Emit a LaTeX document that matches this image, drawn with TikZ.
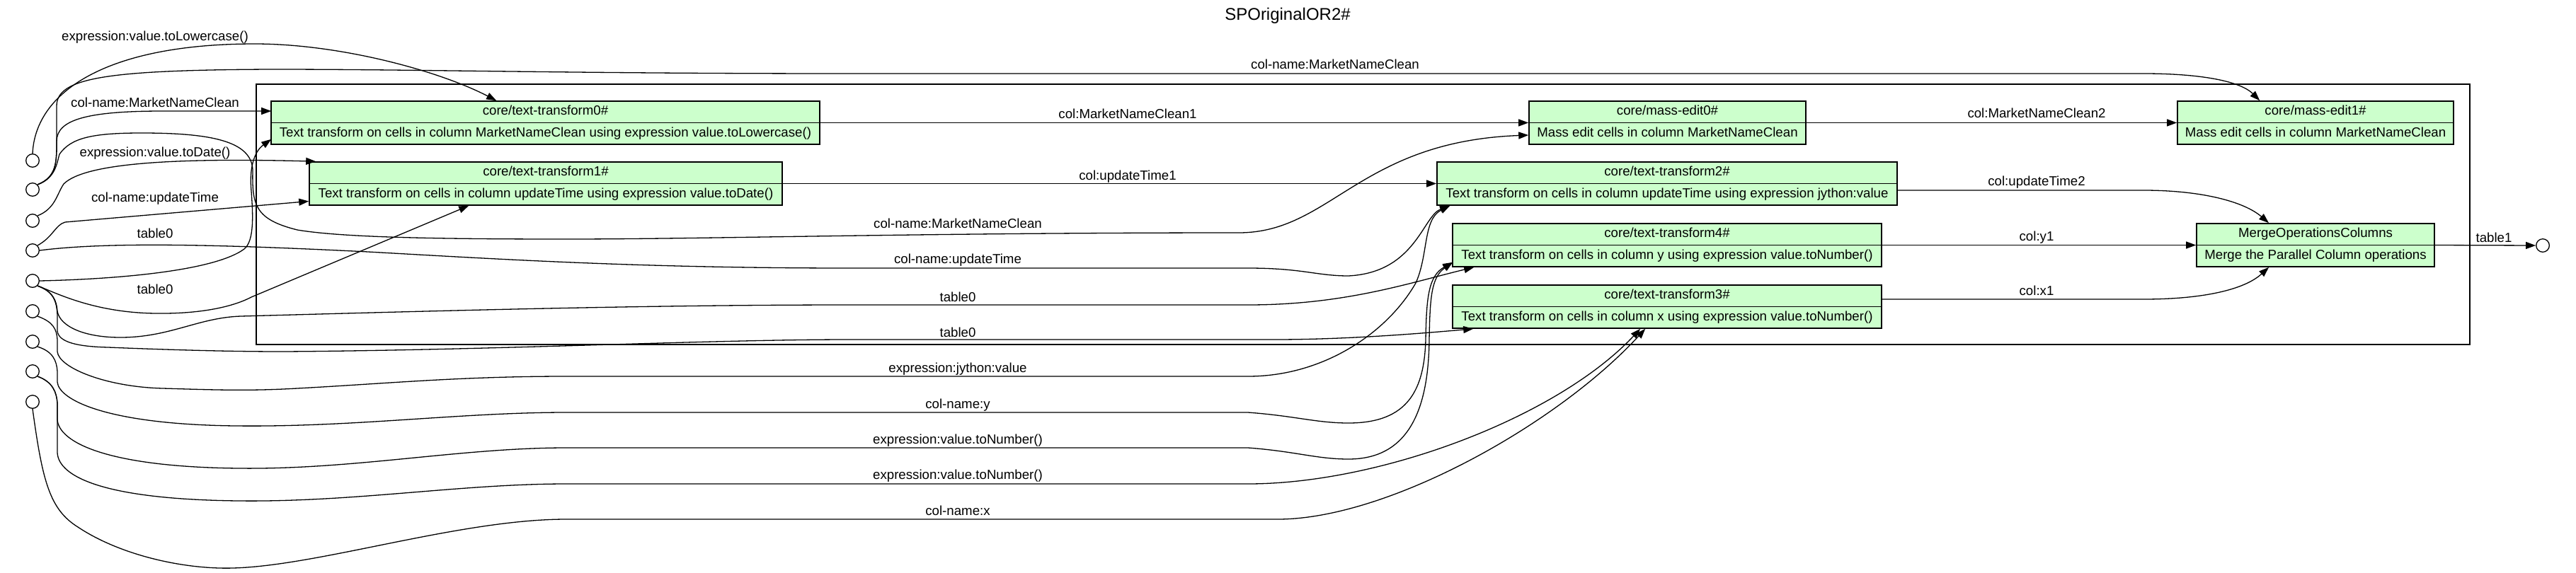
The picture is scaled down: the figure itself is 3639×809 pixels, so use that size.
\documentclass[tikz,border=0pt]{standalone}
\usepackage{fontspec}
\setmainfont{Liberation Sans}
\usetikzlibrary{arrows.meta,calc}
\definecolor{recfill}{RGB}{204,255,204}
\tikzset{
  edge/.style={line width=1.3pt, -{Triangle[length=14pt,width=10pt]}},
  rec/.style={draw, line width=1.6pt, fill=recfill, minimum height=61pt, inner sep=0pt},
  inp/.style={draw, circle, line width=1.3pt, minimum size=18.6pt, inner sep=0pt},
  txt/.style={font=\fontsize{18.67}{22}\selectfont, text height=13.4pt, text depth=3.9pt, inner sep=0pt},
  lbl/.style={txt},
  ttl/.style={font=\fontsize{24}{28}\selectfont, inner sep=0pt},
  clusterbox/.style={draw, line width=2.8pt, inner sep=0pt},
}
\newcommand\recnode[6]{%
  \node[rec, minimum width=#4pt] (#1) at (#2,#3) {};
  \draw[line width=1.6pt] (#1.west) -- (#1.east);
  \node[txt] (#1-h) at ($(#1.north)!0.25!(#1.south)$) {#5};
  \node[txt] (#1-b) at ($(#1.north)!0.75!(#1.south)$) {#6};
}
\begin{document}
\begin{tikzpicture}[x=1pt,y=-1pt]
\fill[white] (0,0) rectangle (3639,809);
\useasboundingbox (0,0) rectangle (3639,809);
\node[ttl] (title) at (1819,22) {SPOriginalOR2\#};
\node[clusterbox, minimum width=3127pt, minimum height=368pt] (cluster) at (1925.5,303) {};

\recnode{tt0}{770.5}{173.5}{775}{core/text-transform0\#}{Text transform on cells in column MarketNameClean using expression value.toLowercase()}
\recnode{tt1}{771}{259.5}{668}{core/text-transform1\#}{Text transform on cells in column updateTime using expression value.toDate()}
\recnode{me0}{2355.5}{173.5}{391}{core/mass-edit0\#}{Mass edit cells in column MarketNameClean}
\recnode{tt2}{2355}{259.5}{650}{core/text-transform2\#}{Text transform on cells in column updateTime using expression jython:value}
\recnode{tt4}{2355}{346.5}{606}{core/text-transform4\#}{Text transform on cells in column y using expression value.toNumber()}
\recnode{tt3}{2355}{433.5}{606}{core/text-transform3\#}{Text transform on cells in column x using expression value.toNumber()}
\recnode{me1}{3271}{173.5}{390}{core/mass-edit1\#}{Mass edit cells in column MarketNameClean}
\recnode{mrg}{3271}{346.5}{336}{MergeOperationsColumns}{Merge the Parallel Column operations}

\foreach \i/\yy in {1/227,2/268,3/312,4/354,5/397,6/440,7/483,8/525,9/568}
  \node[inp] (c\i) at (46,\yy) {};
\node[inp] (out) at (3592,347) {};

% labels
\node[lbl] (l1) at (219,53) {expression:value.toLowercase()};
\node[lbl] (l3) at (1886,93) {col-name:MarketNameClean};
\node[lbl] (l2) at (219,147) {col-name:MarketNameClean};
\node[lbl] (l5) at (219,217) {expression:value.toDate()};
\node[lbl] (l6) at (219,281) {col-name:updateTime};
\node[lbl] (l8) at (219,332) {table0};
\node[lbl] (l9) at (219,411) {table0};
\node[lbl] (l4) at (1353,318) {col-name:MarketNameClean};
\node[lbl] (l7) at (1353,368) {col-name:updateTime};
\node[lbl] (l10) at (1353,422) {table0};
\node[lbl] (l11) at (1353,472) {table0};
\node[lbl] (l12) at (1353,522) {expression:jython:value};
\node[lbl] (l13) at (1353,573) {col-name:y};
\node[lbl] (l14) at (1353,623) {expression:value.toNumber()};
\node[lbl] (l15) at (1353,673) {expression:value.toNumber()};
\node[lbl] (l16) at (1353,724) {col-name:x};
\node[lbl] (m1) at (1593,163) {col:MarketNameClean1};
\node[lbl] (m2) at (1593,250) {col:updateTime1};
\node[lbl] (m3) at (2877,162) {col:MarketNameClean2};
\node[lbl] (m4) at (2877,258) {col:updateTime2};
\node[lbl] (m5) at (2877,336) {col:y1};
\node[lbl] (m6) at (2877,413) {col:x1};
\node[lbl] (m7) at (3523,338) {table1};

% input edges
\draw[edge] (c1.north) .. controls (50,130) and (150,62) .. (360,62) .. controls (480,62) and (620,100) .. ($(tt0.north west)+(319,0)$);
\draw[edge] (c2.north east) .. controls (80,250) and (80,230) .. (80,200) -- (80,150) .. controls (80,110) and (150,99) .. (383,98) .. controls (600,98) and (800,104) .. (1200,104) -- (3028,104) .. controls (3110,104) and (3165,115) .. ($(me1.north west)+(117,0)$);
\draw[edge] (c2.north east) .. controls (80,250) and (80,230) .. (80,200) .. controls (80,170) and (120,157) .. (230,157) -- ($(tt0.west)+(1,-16.5)$);
\draw[edge] (c2.north east) .. controls (78,252) and (80,232) .. (84,218) .. controls (100,195) and (130,188) .. (200,188) .. controls (300,188) and (355,200) .. (357,240) .. controls (356,290) and (360,310) .. (420,325) .. controls (480,335) and (600,338) .. (800,338) .. controls (1000,338) and (1300,329) .. (1750,329) .. controls (1880,329) and (1920,200) .. ($(me0.west)+(0,17.5)$);
\draw[edge] (c3.north east) .. controls (78,295) and (80,275) .. (90,260) .. controls (120,230) and (250,223) .. ($(tt1.north west)+(10,0)$);
\draw[edge] (c4.north east) .. controls (75,335) and (78,318) .. (92,314) -- ($(tt1.west)+(0,25)$);
\draw[edge] (c4.east) .. controls (150,342) and (300,345) .. (520,356) .. controls (700,366) and (900,379) .. (1200,379) -- (1763,379) .. controls (1840,379) and (1860,390) .. (1905,390) .. controls (2000,385) and (2010,305) .. ($(tt2.south west)+(19,0)$);
\draw[edge] (c5.east) .. controls (150,395) and (300,385) .. (345,352) .. controls (360,340) and (357,300) .. (355,270) .. controls (352,240) and (358,215) .. ($(tt0.south west)+(1,-8)$);
\draw[edge] (c5.south east) .. controls (75,412) and (130,442) .. (220,443) .. controls (300,444) and (340,428) .. (355,420) -- ($(tt1.south west)+(226,0)$);
\draw[edge] (c5.south east) .. controls (75,412) and (80,425) .. (81,440) .. controls (85,462) and (120,477) .. (170,477) .. controls (240,477) and (280,449) .. (340,447) .. controls (600,440) and (900,431) .. (1200,431) -- (1763,431) .. controls (1900,431) and (1990,400) .. ($(tt4.south west)+(31,0)$);
\draw[edge] (c5.south east) .. controls (75,412) and (80,425) .. (81,445) -- (81,468) .. controls (83,484) and (110,490) .. (153,491) .. controls (250,495) and (330,497) .. (400,497) .. controls (700,495) and (1000,480) .. (1200,480) -- (1800,480) .. controls (1900,480) and (2000,472) .. ($(tt3.south west)+(30,0)$);
\draw[edge] (c6.south east) .. controls (75,455) and (80,465) .. (81,480) -- (81,497) .. controls (83,520) and (150,547) .. (230,549) .. controls (300,551) and (350,553) .. (420,549) .. controls (550,542) and (650,532) .. (800,532) -- (1763,532) .. controls (1870,532) and (1960,470) .. (2000,400) .. controls (2018,360) and (2010,310) .. ($(tt2.south west)+(19,0)$);
\draw[edge] (c7.south east) .. controls (75,497) and (80,510) .. (81,525) -- (81,540) .. controls (83,565) and (150,600) .. (333,602) .. controls (500,604) and (650,583) .. (800,583) -- (1763,583) .. controls (1830,588) and (1860,598) .. (1905,598) .. controls (1990,598) and (2012,550) .. (2014,480) .. controls (2015,420) and (2018,390) .. ($(tt4.south west)+(1,-7)$);
\draw[edge] (c8.south east) .. controls (75,540) and (80,555) .. (81,570) -- (81,593) .. controls (83,625) and (150,660) .. (337,662) .. controls (500,664) and (650,633) .. (800,633) -- (1763,633) .. controls (1830,638) and (1860,649) .. (1905,649) .. controls (1995,649) and (2018,570) .. (2019,480) .. controls (2020,420) and (2022,392) .. ($(tt4.south west)+(1,-7)$);
\draw[edge] (c8.south east) .. controls (75,540) and (80,555) .. (81,570) -- (81,640) .. controls (83,675) and (150,706) .. (337,708) .. controls (500,710) and (650,684) .. (800,684) -- (1763,684) .. controls (1950,684) and (2200,590) .. ($(tt3.south west)+(266,0)$);
\draw[edge] (c9.south) .. controls (60,680) and (70,720) .. (110,745) .. controls (170,785) and (260,805) .. (329,803) .. controls (450,800) and (650,734) .. (800,734) -- (1805,734) .. controls (1960,734) and (2200,600) .. ($(tt3.south west)+(273,0)$);

% internal edges
\draw[edge] (tt0.east) -- (me0.west);
\draw[edge] (me0.east) -- (me1.west);
\draw[edge] (tt1.east) -- (tt2.west);
\draw[edge] ($(tt2.east)+(0,9.5)$) -- (3028,269) .. controls (3110,269) and (3170,285) .. ($(mrg.north)+(-66,0)$);
\draw[edge] (tt4.east) -- (mrg.west);
\draw[edge] ($(tt3.east)+(0,-10.5)$) -- (3028,423) .. controls (3110,423) and (3170,410) .. ($(mrg.south)+(-66,0)$);
\draw[edge] (mrg.east) -- (out.west);
\end{tikzpicture}
\end{document}
